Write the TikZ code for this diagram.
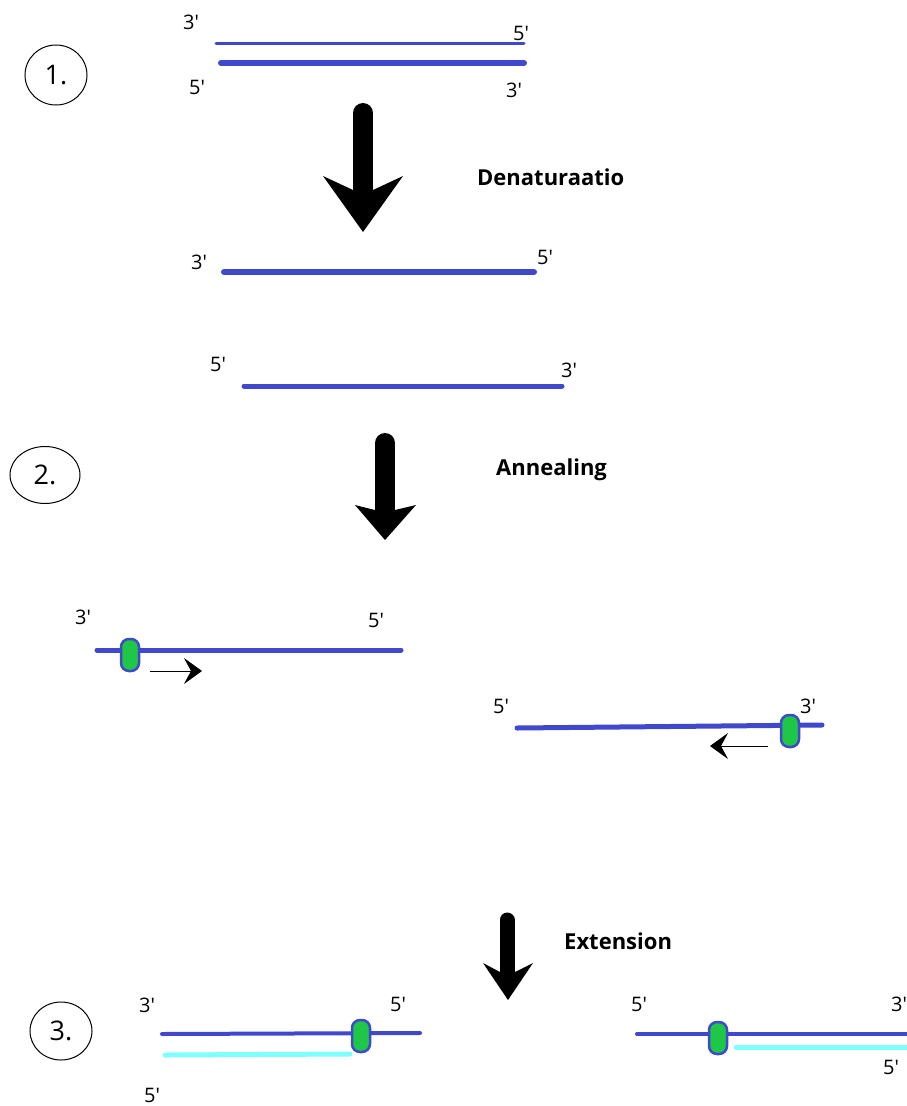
\documentclass[tikz,border=0pt]{standalone}
\usepackage{fontspec}
\setmainfont{Open Sans}
\usetikzlibrary{arrows.meta,shapes.geometric}
\definecolor{dnablue}{RGB}{64,72,204}
\definecolor{primergreen}{RGB}{30,200,70}
\definecolor{newstrand}{RGB}{128,255,255}
\newcommand\pr{\textquotesingle}

\begin{document}
\begin{tikzpicture}[x=1pt,y=-1pt,
  endlabel/.style={font=\fontsize{20}{20}\selectfont, inner sep=0pt},
  steplabel/.style={font=\fontsize{22}{22}\selectfont\bfseries, inner sep=0pt, anchor=west},
  stagecircle/.style={draw, ellipse, line width=1pt, font=\fontsize{27}{27}\selectfont, inner sep=0pt},
  strand/.style={dnablue, line width=5pt, line cap=round},
  thinstrand/.style={dnablue, line width=3pt, line cap=round},
  copystrand/.style={newstrand, line width=5pt, line cap=round},
  primer/.style={draw=dnablue, fill=primergreen, line width=2.5pt, rounded corners=8pt,
                 minimum width=18pt, minimum height=32pt, inner sep=0pt},
  bigarrow/.style={fill=black},
  shaft/.style={line width=#1, line cap=round},
  direction/.style={line width=1pt, -{Stealth[length=18pt,width=26pt,inset=7pt]}},
]
\fill[white] (0,0) rectangle (906,1106);
\useasboundingbox (0,0) rectangle (906,1106);

% ---------- stage 1: double strand ----------
\node[stagecircle, minimum width=62pt, minimum height=60pt] (s1) at (56,75) {1.};
\coordinate (d1a) at (216,43);  \coordinate (d1b) at (524,43);
\coordinate (d2a) at (221,63);  \coordinate (d2b) at (524,63);
\draw[thinstrand] (d1a) -- (d1b);
\draw[strand, line width=6pt] (d2a) -- (d2b);
\node[endlabel] (l1) at (191,22) {3\pr};
\node[endlabel] (l2) at (521,33) {5\pr};
\node[endlabel] (l3) at (197,87) {5\pr};
\node[endlabel] (l4) at (514,90) {3\pr};

% denaturation arrow
\draw[shaft=20pt] (363,113) -- (363,195);
\fill[bigarrow] (353,190) -- (323,176) -- (363,232) -- (403,176) -- (373,190) -- cycle;
\node[steplabel] (den) at (477,177) {Denaturaatio};

% ---------- separated strands ----------
\coordinate (e1a) at (224,272);  \coordinate (e1b) at (534,272);
\coordinate (e2a) at (244,386);  \coordinate (e2b) at (562,386);
\draw[strand, line width=6pt] (e1a) -- (e1b);
\draw[strand, line width=5pt] (e2a) -- (e2b);
\node[endlabel] (l5) at (199,262) {3\pr};
\node[endlabel] (l6) at (545,257) {5\pr};
\node[endlabel] (l7) at (218,364) {5\pr};
\node[endlabel] (l8) at (569,370) {3\pr};

% ---------- stage 2: annealing ----------
\node[stagecircle, minimum width=70pt, minimum height=57pt] (s2) at (45,475) {2.};
\draw[shaft=20pt] (385,443) -- (385,512);
\fill[bigarrow] (375,510) -- (355,505) -- (385,540) -- (416,505) -- (395,510) -- cycle;
\node[steplabel] (ann) at (496,470) {Annealing};

% left template with primer
\coordinate (f1a) at (97,650);  \coordinate (f1b) at (401,650);
\draw[strand] (f1a) -- (f1b);
\node[primer] (p1) at (130,655) {};
\coordinate (r1a) at (150,671);  \coordinate (r1b) at (202,671);
\draw[direction] (r1a) -- (r1b);
\node[endlabel] (l9) at (83,617) {3\pr};
\node[endlabel] (l10) at (376,620) {5\pr};

% right template with primer
\coordinate (f2a) at (517,728);  \coordinate (f2b) at (822,725);
\draw[strand] (f2a) -- (f2b);
\node[primer] (p2) at (790,731) {};
\coordinate (r2a) at (768,746);  \coordinate (r2b) at (710,746);
\draw[direction] (r2a) -- (r2b);
\node[endlabel] (l11) at (501,706) {5\pr};
\node[endlabel] (l12) at (808,706) {3\pr};

% ---------- stage 3: extension ----------
\draw[shaft=15pt] (507,920) -- (507,975);
\fill[bigarrow] (500,972) -- (483,963) -- (508,1000) -- (533,963) -- (515,972) -- cycle;
\node[steplabel] (ext) at (564,941) {Extension};
\node[stagecircle, minimum width=62pt, minimum height=58pt] (s3) at (61,1031) {3.};

% left product
\coordinate (g1a) at (162,1034);  \coordinate (g1b) at (420,1033);
\coordinate (c1a) at (165,1055);  \coordinate (c1b) at (350,1054);
\draw[strand, line width=4pt] (g1a) -- (g1b);
\draw[copystrand] (c1a) -- (c1b);
\node[primer] (p3) at (361,1036) {};
\node[endlabel] (l13) at (147,1005) {3\pr};
\node[endlabel] (l14) at (398,1004) {5\pr};
\node[endlabel] (l15) at (152,1095) {5\pr};

% right product
\coordinate (g2a) at (637,1034);  \coordinate (g2b) at (910,1034);
\coordinate (c2a) at (736,1047);  \coordinate (c2b) at (910,1047);
\draw[strand, line width=4pt] (g2a) -- (g2b);
\draw[copystrand] (c2a) -- (c2b);
\node[primer] (p4) at (718,1038) {};
\node[endlabel] (l16) at (639,1004) {5\pr};
\node[endlabel] (l17) at (899,1004) {3\pr};
\node[endlabel] (l18) at (891,1067) {5\pr};
\end{tikzpicture}
\end{document}
